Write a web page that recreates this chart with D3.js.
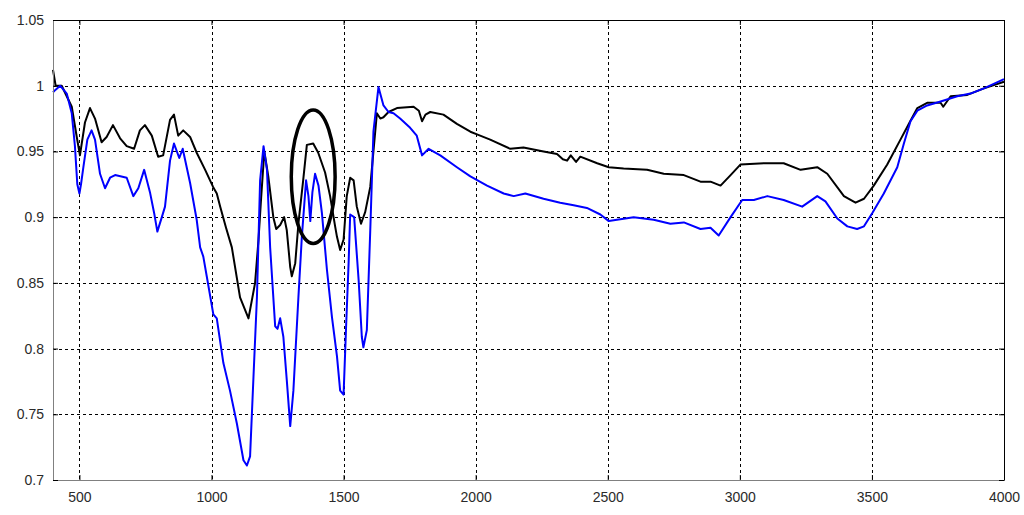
<!DOCTYPE html>
<html>
<head>
<meta charset="utf-8">
<script src="https://cdn.jsdelivr.net/npm/d3@7"></script>
<style>
  body { margin: 0; background: #fff; }
  svg text { font-family: Arial, "Liberation Sans", sans-serif; font-size: 14px; fill: #2a2a2a; }
</style>
</head>
<body>
<svg id="chart" width="1024" height="515"></svg>
<script>
// wavenumber / value pairs
var blackWave = [400,410,433,452,471,490,502,521,540,559,584,603,627,654,679,707,729,748,774,798,817,843,858,874,893,919,944,976,1006,1020,1033,1055,1077,1108,1140,1165,1178,1188,1200,1215,1234,1245,1260,1275,1285,1298,1304,1317,1329,1347,1361,1385,1404,1430,1449,1468,1475,1487,1500,1512,1525,1538,1550,1566,1582,1601,1613,1626,1639,1651,1670,1702,1765,1785,1797,1810,1828,1878,1929,1980,2005,2055,2131,2181,2257,2308,2330,2346,2360,2380,2396,2460,2504,2560,2649,2712,2788,2851,2889,2927,2965,3002,3091,3166,3230,3293,3331,3394,3438,3470,3507,3558,3608,3640,3672,3709,3760,3770,3798,3861,3924,4000];
var blackVal  = [1.012,1.000,1.000,0.992,0.984,0.961,0.947,0.972,0.983,0.975,0.957,0.961,0.970,0.960,0.954,0.952,0.966,0.970,0.962,0.946,0.947,0.974,0.978,0.962,0.966,0.961,0.949,0.936,0.923,0.918,0.908,0.892,0.877,0.839,0.823,0.850,0.883,0.915,0.950,0.931,0.900,0.891,0.894,0.900,0.890,0.862,0.855,0.865,0.895,0.928,0.955,0.956,0.949,0.934,0.916,0.893,0.885,0.875,0.883,0.916,0.930,0.928,0.908,0.895,0.904,0.923,0.950,0.979,0.975,0.976,0.980,0.983,0.984,0.981,0.973,0.978,0.980,0.978,0.971,0.965,0.963,0.959,0.952,0.953,0.950,0.948,0.944,0.943,0.947,0.942,0.946,0.941,0.938,0.937,0.936,0.933,0.932,0.927,0.927,0.924,0.932,0.940,0.941,0.941,0.936,0.938,0.933,0.916,0.911,0.914,0.924,0.940,0.959,0.971,0.983,0.987,0.987,0.984,0.992,0.993,0.998,1.003];

var blueWave = [400,410,427,452,471,483,492,500,506,515,530,546,559,578,597,616,635,679,704,723,745,767,783,795,812,824,843,858,878,891,919,944,957,969,982,1007,1020,1045,1070,1096,1121,1134,1146,1159,1172,1184,1197,1210,1222,1241,1250,1260,1272,1285,1298,1310,1329,1342,1358,1367,1374,1382,1392,1405,1418,1437,1456,1475,1487,1500,1509,1519,1525,1540,1557,1569,1575,1588,1601,1613,1632,1651,1670,1689,1714,1752,1777,1797,1822,1866,1929,1980,2043,2106,2144,2188,2257,2320,2371,2421,2472,2504,2535,2598,2674,2737,2788,2851,2889,2920,2965,3009,3053,3104,3166,3236,3293,3324,3369,3407,3444,3470,3501,3545,3596,3621,3646,3672,3709,3760,3823,3873,3924,4000];
var blueVal  = [0.995,0.997,1.000,0.994,0.979,0.954,0.925,0.918,0.925,0.938,0.959,0.966,0.959,0.933,0.922,0.930,0.932,0.930,0.916,0.922,0.936,0.919,0.903,0.889,0.900,0.908,0.943,0.956,0.945,0.952,0.926,0.898,0.877,0.870,0.855,0.826,0.823,0.789,0.768,0.743,0.715,0.711,0.718,0.779,0.839,0.928,0.954,0.936,0.877,0.817,0.815,0.823,0.809,0.776,0.741,0.768,0.839,0.885,0.928,0.916,0.897,0.919,0.933,0.924,0.903,0.860,0.824,0.794,0.768,0.765,0.814,0.865,0.902,0.900,0.852,0.809,0.801,0.814,0.890,0.965,0.999,0.985,0.980,0.979,0.975,0.968,0.962,0.947,0.952,0.947,0.938,0.931,0.924,0.918,0.916,0.918,0.914,0.911,0.909,0.907,0.902,0.897,0.898,0.900,0.898,0.895,0.896,0.891,0.892,0.886,0.900,0.913,0.913,0.916,0.913,0.908,0.916,0.912,0.899,0.893,0.891,0.893,0.903,0.918,0.938,0.956,0.973,0.981,0.985,0.988,0.992,0.994,0.998,1.005];

var xTicks = [500,1000,1500,2000,2500,3000,3500,4000];
var yTicks = [0.7,0.75,0.8,0.85,0.9,0.95,1,1.05];

// circled region (centre wave, centre value, half width in wave, half height in value)
var markCentre = [1385, 0.9308];
var markRadius = [83, 0.0508];

var svg = d3.select('#chart'),
    plotLeft = 53, plotRight = 1004, plotTop = 20, plotBottom = 480;

var x = d3.scaleLinear().domain([400, 4000]).range([plotLeft, plotRight]);
var y = d3.scaleLinear().domain([0.7, 1.05]).range([plotBottom, plotTop]);

// grid
var grid = svg.append('g');
grid.selectAll('line.vg')
  .data(xTicks.filter(function(d) { return d < 4000; }))
  .enter().append('line')
  .attr('x1', function(d) { return Math.round(x(d)) + 0.5; })
  .attr('x2', function(d) { return Math.round(x(d)) + 0.5; })
  .attr('y1', plotTop).attr('y2', plotBottom)
  .attr('stroke', '#000').attr('stroke-width', 1)
  .attr('stroke-dasharray', '3,3');

grid.selectAll('line.hg')
  .data(yTicks.filter(function(d) { return d > 0.7 && d < 1.05; }))
  .enter().append('line')
  .attr('x1', plotLeft).attr('x2', plotRight)
  .attr('y1', function(d) { return Math.round(y(d)) + 0.5; })
  .attr('y2', function(d) { return Math.round(y(d)) + 0.5; })
  .attr('stroke', '#000').attr('stroke-width', 1)
  .attr('stroke-dasharray', '3,3');

// curves
function toPoints(w, v) {
  return w.map(function(d, i) { return [d, v[i]]; });
}

var line = d3.line()
  .x(function(d) { return x(d[0]); })
  .y(function(d) { return y(d[1]); });

svg.append('path')
  .datum(toPoints(blackWave, blackVal))
  .attr('d', line)
  .attr('fill', 'none').attr('stroke', '#000')
  .attr('stroke-width', 2).attr('stroke-linejoin', 'round');

svg.append('path')
  .datum(toPoints(blueWave, blueVal))
  .attr('d', line)
  .attr('fill', 'none').attr('stroke', '#0000ff')
  .attr('stroke-width', 2).attr('stroke-linejoin', 'round');

// ellipse marker
svg.append('ellipse')
  .attr('cx', x(markCentre[0]))
  .attr('cy', y(markCentre[1]))
  .attr('rx', x(markCentre[0] + markRadius[0]) - x(markCentre[0]))
  .attr('ry', y(markCentre[1] - markRadius[1]) - y(markCentre[1]))
  .attr('fill', 'none').attr('stroke', '#000').attr('stroke-width', 3.5);

// axes frame
var xAxis = d3.axisBottom(x).tickValues(xTicks).tickSizeInner(-5).tickSizeOuter(0).tickPadding(12)
  .tickFormat(d3.format('d'));
var yAxis = d3.axisLeft(y).tickValues(yTicks).tickSizeInner(-5).tickSizeOuter(0).tickPadding(9)
  .tickFormat(function(d) { return d3.format('')(d); });

var gx = svg.append('g').attr('transform', 'translate(0,' + plotBottom + ')').call(xAxis);
var gy = svg.append('g').attr('transform', 'translate(' + plotLeft + ',0)').call(yAxis);
gx.select('.domain').attr('stroke', '#808080');
gy.select('.domain').attr('stroke', '#808080');
gx.selectAll('.tick line').attr('stroke', '#000');
gy.selectAll('.tick line').attr('stroke', '#000');
gx.selectAll('text').attr('fill', '#2a2a2a').style('font-size', '14px');
gy.selectAll('text').attr('fill', '#2a2a2a').style('font-size', '14px');

// top and right edges with inward ticks
var gt = svg.append('g').attr('transform', 'translate(0,' + plotTop + ')')
  .call(d3.axisTop(x).tickValues(xTicks).tickSizeInner(-5).tickSizeOuter(0).tickFormat(''));
var gr = svg.append('g').attr('transform', 'translate(' + plotRight + ',0)')
  .call(d3.axisRight(y).tickValues(yTicks).tickSizeInner(-5).tickSizeOuter(0).tickFormat(''));
gt.select('.domain').attr('stroke', '#000');
gr.select('.domain').attr('stroke', '#000');
</script>
</body>
</html>
